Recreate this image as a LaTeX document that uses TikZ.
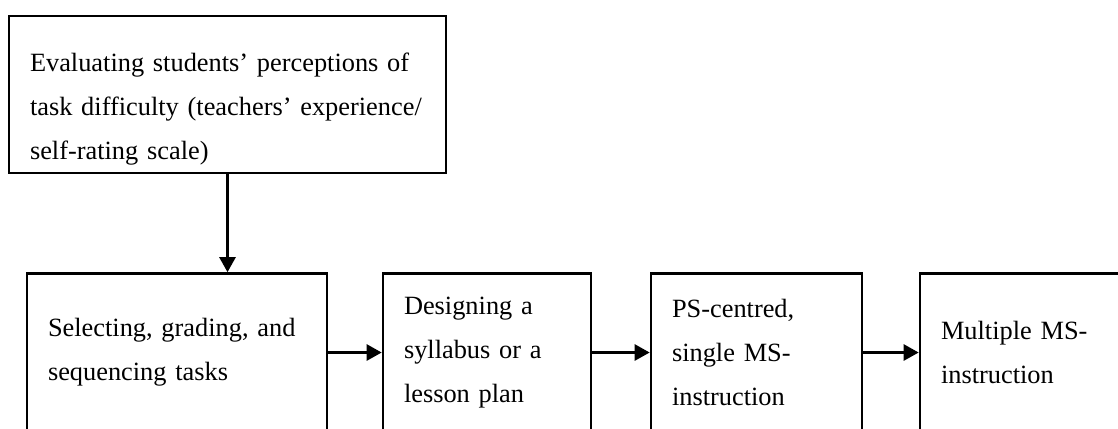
\documentclass[tikz,border=0pt]{standalone}
\usepackage{fontspec}
\setmainfont{Liberation Serif}
\usetikzlibrary{arrows.meta,positioning}

\begin{document}
\begin{tikzpicture}[
		box/.style={draw, line width=1.5pt, rectangle, align=left, inner xsep=0.42cm, inner ysep=0pt, font=\fontsize{15}{25}\selectfont},
		flow/.style={line width=1.5pt, -{Triangle[length=0.3cm, width=0.32cm]}}
	]
		% page
		\clip (0, 0) rectangle (22.36, -8.56);
		
		% evaluation box
		\node[box, text width=7.9cm, minimum height=3.14cm] (eval) at (4.55, -1.89)
			{\rule{0pt}{0.94cm}Evaluating students’ perceptions of\\
			 task difficulty (teachers’ experience/\\
			 self-rating scale)};
		
		% steps, cut off by the page
		\node[box, text width=5.16cm, minimum height=3.16cm] (select) at (3.54, -7.05)
			{Selecting, grading, and\\ sequencing tasks};
		\node[box, text width=3.32cm, minimum height=3.16cm] (design) at (9.74, -7.05)
			{Designing a\\ syllabus or a\\ lesson plan};
		\node[box, text width=3.38cm, minimum height=3.16cm] (single) at (15.13, -7.05)
			{PS-centred,\\ single MS-\\ instruction};
		\node[box, text width=3.36cm, minimum height=3.16cm] (multi) at (20.5, -7.05)
			{Multiple MS-\\ instruction};
		
		% arrows
		\draw[flow] (eval.south) -- (eval.south |- select.north);
		\draw[flow] (select) -- (design);
		\draw[flow] (design) -- (single);
		\draw[flow] (single) -- (multi);
		
	\end{tikzpicture}
\end{document}
